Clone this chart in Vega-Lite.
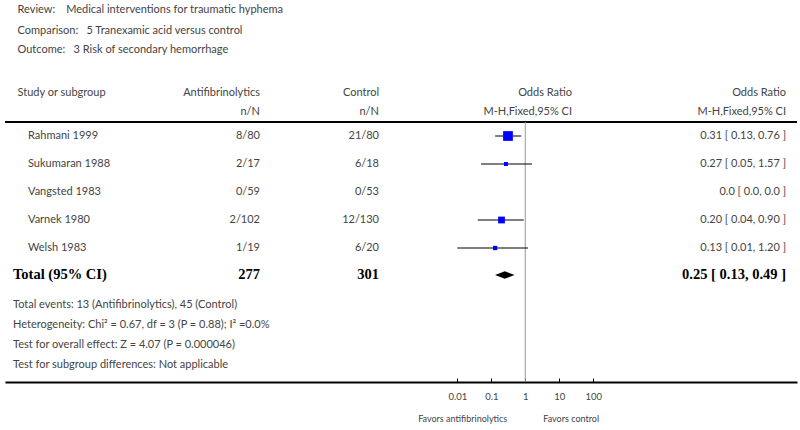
{
  "$schema": "https://vega.github.io/schema/vega-lite/v6.json",
  "width": 800,
  "height": 430,
  "autosize": "none",
  "padding": 0,
  "background": "white",
  "config": {
    "view": {"stroke": null},
    "text": {"font": "Lato", "fontSize": 11, "color": "#444", "baseline": "middle"}
  },
  "datasets": {
    "cells": [
      {"r": 0, "c": 1, "t": "Review:\u2002\u2002Medical interventions for traumatic hyphema", "k": "L"},
      {"r": 1, "c": 1, "t": "Comparison:\u2002\u00a05 Tranexamic acid versus control", "k": "L"},
      {"r": 2, "c": 1, "t": "Outcome:\u2002\u00a03 Risk of secondary hemorrhage", "k": "L"},
      {"r": 3, "c": 1, "t": "Study or subgroup", "k": "L"},
      {"r": 3, "c": 3, "t": "Antifibrinolytics", "k": "R"},
      {"r": 4, "c": 3, "t": "n/N", "k": "R"},
      {"r": 3, "c": 4, "t": "Control", "k": "R"},
      {"r": 4, "c": 4, "t": "n/N", "k": "R"},
      {"r": 3, "c": 5, "t": "Odds Ratio", "k": "R"},
      {"r": 4, "c": 5, "t": "M-H,Fixed,95% CI", "k": "R"},
      {"r": 3, "c": 6, "t": "Odds Ratio", "k": "R"},
      {"r": 4, "c": 6, "t": "M-H,Fixed,95% CI", "k": "R"},
      {"r": 6, "c": 2, "t": "Rahmani 1999", "k": "L"},
      {"r": 6, "c": 3, "t": "8/80", "k": "R"},
      {"r": 6, "c": 4, "t": "21/80", "k": "R"},
      {"r": 6, "c": 6, "t": "0.31 [ 0.13, 0.76 ]", "k": "R"},
      {"r": 7, "c": 2, "t": "Sukumaran 1988", "k": "L"},
      {"r": 7, "c": 3, "t": "2/17", "k": "R"},
      {"r": 7, "c": 4, "t": "6/18", "k": "R"},
      {"r": 7, "c": 6, "t": "0.27 [ 0.05, 1.57 ]", "k": "R"},
      {"r": 8, "c": 2, "t": "Vangsted 1983", "k": "L"},
      {"r": 8, "c": 3, "t": "0/59", "k": "R"},
      {"r": 8, "c": 4, "t": "0/53", "k": "R"},
      {"r": 8, "c": 6, "t": "0.0 [ 0.0, 0.0 ]", "k": "R"},
      {"r": 9, "c": 2, "t": "Varnek 1980", "k": "L"},
      {"r": 9, "c": 3, "t": "2/102", "k": "R"},
      {"r": 9, "c": 4, "t": "12/130", "k": "R"},
      {"r": 9, "c": 6, "t": "0.20 [ 0.04, 0.90 ]", "k": "R"},
      {"r": 10, "c": 2, "t": "Welsh 1983", "k": "L"},
      {"r": 10, "c": 3, "t": "1/19", "k": "R"},
      {"r": 10, "c": 4, "t": "6/20", "k": "R"},
      {"r": 10, "c": 6, "t": "0.13 [ 0.01, 1.20 ]", "k": "R"},
      {"r": 11, "c": 0, "t": "Total (95% CI)", "k": "BL"},
      {"r": 11, "c": 3, "t": "277", "k": "BR"},
      {"r": 11, "c": 4, "t": "301", "k": "BR"},
      {"r": 11, "c": 6, "t": "0.25 [ 0.13, 0.49 ]", "k": "BR"},
      {"r": 12, "c": 0, "t": "Total events: 13 (Antifibrinolytics), 45 (Control)", "k": "L"},
      {"r": 13, "c": 0, "t": "Heterogeneity: Chi\u00b2 = 0.67, df = 3 (P = 0.88); I\u00b2 =0.0%", "k": "L"},
      {"r": 14, "c": 0, "t": "Test for overall effect: Z = 4.07 (P = 0.000046)", "k": "L"},
      {"r": 15, "c": 0, "t": "Test for subgroup differences: Not applicable", "k": "L"}
    ],
    "studies": [
      {"study": "Rahmani 1999", "r": 6, "or": 0.31, "lo": 0.13, "hi": 0.76, "w": 47.3},
      {"study": "Sukumaran 1988", "r": 7, "or": 0.27, "lo": 0.05, "hi": 1.57, "w": 12.9},
      {"study": "Vangsted 1983", "r": 8, "or": null, "lo": null, "hi": null, "w": 0},
      {"study": "Varnek 1980", "r": 9, "or": 0.2, "lo": 0.04, "hi": 0.9, "w": 25.9},
      {"study": "Welsh 1983", "r": 10, "or": 0.13, "lo": 0.01, "hi": 1.2, "w": 13.9}
    ],
    "total": [
      {"r": 11, "or": 0.25, "lo": 0.13, "hi": 0.49}
    ]
  },
  "layer": [
    {
      "data": {"name": "cells"},
      "encoding": {
        "x": {"field": "c", "type": "quantitative", "axis": null,
              "scale": {"domain": [0, 1, 2, 3, 4, 5, 6], "range": [13, 17.5, 28, 260, 379, 572, 786], "nice": false, "zero": false}},
        "y": {"field": "r", "type": "quantitative", "axis": null,
              "scale": {"domain": [0, 1, 2, 3, 4, 5, 6, 7, 8, 9, 10, 11, 12, 13, 14, 15, 16, 17, 18],
                        "range": [10.3, 30.7, 50, 92.7, 112, 122, 136, 164, 192, 220, 248, 275, 305, 325, 345, 365, 382, 400, 419],
                        "nice": false, "zero": false}},
        "text": {"field": "t", "type": "nominal"}
      },
      "layer": [
        {"transform": [{"filter": "datum.k == 'L'"}], "mark": {"type": "text", "align": "left"}},
        {"transform": [{"filter": "datum.k == 'R'"}], "mark": {"type": "text", "align": "right"}},
        {"transform": [{"filter": "datum.k == 'BL'"}], "mark": {"type": "text", "align": "left", "font": "Liberation Serif", "fontWeight": "bold", "fontSize": 14.5, "color": "#000"}},
        {"transform": [{"filter": "datum.k == 'BR'"}], "mark": {"type": "text", "align": "right", "font": "Liberation Serif", "fontWeight": "bold", "fontSize": 14.5, "color": "#000"}}
      ]
    },
    {
      "layer": [
        {
          "data": {"values": [{"line": "header rule", "r": 5}]},
          "mark": {"type": "rule", "color": "#000", "strokeWidth": 2},
          "encoding": {
            "x": {"datum": 5e-16, "type": "quantitative",
                  "scale": {"type": "log", "domain": [5e-16, 9.8e7], "range": [5, 797], "nice": false},
                  "axis": {"values": [0.01, 0.1, 1, 10, 100], "format": "~g", "offset": -48, "title": null, "grid": false,
                           "domainColor": "#000", "domainWidth": 2, "tickColor": "#000", "tickWidth": 1, "tickSize": -4,
                           "labelFont": "Lato", "labelFontSize": 9.5, "labelColor": "#444", "labelBaseline": "middle",
                           "labelPadding": 18, "labelFlush": false, "labelOverlap": false}},
            "x2": {"datum": 9.8e7},
            "y": {"field": "r", "type": "quantitative", "axis": null,
                  "scale": {"domain": [0, 1, 2, 3, 4, 5, 6, 7, 8, 9, 10, 11, 12, 13, 14, 15, 16, 17, 18],
                            "range": [10.3, 30.7, 50, 92.7, 112, 122, 136, 164, 192, 220, 248, 275, 305, 325, 345, 365, 382, 400, 419],
                            "nice": false, "zero": false}}
          }
        },
        {
          "data": {"values": [{"or": 1, "r": 5, "r2": 16}]},
          "mark": {"type": "rule", "color": "#999", "strokeWidth": 1},
          "encoding": {
            "x": {"field": "or", "type": "quantitative", "title": null},
            "y": {"field": "r", "type": "quantitative", "axis": null,
                  "scale": {"domain": [0, 1, 2, 3, 4, 5, 6, 7, 8, 9, 10, 11, 12, 13, 14, 15, 16, 17, 18],
                            "range": [10.3, 30.7, 50, 92.7, 112, 122, 136, 164, 192, 220, 248, 275, 305, 325, 345, 365, 382, 400, 419],
                            "nice": false, "zero": false}},
            "y2": {"field": "r2"}
          }
        },
        {
          "data": {"name": "studies"},
          "transform": [{"filter": "isValid(datum.or) && datum.or > 0"}],
          "mark": {"type": "rule", "color": "#000", "strokeWidth": 1},
          "encoding": {
            "x": {"field": "lo", "type": "quantitative", "title": null},
            "x2": {"field": "hi"},
            "y": {"field": "r", "type": "quantitative", "axis": null,
                  "scale": {"domain": [0, 1, 2, 3, 4, 5, 6, 7, 8, 9, 10, 11, 12, 13, 14, 15, 16, 17, 18],
                            "range": [10.3, 30.7, 50, 92.7, 112, 122, 136, 164, 192, 220, 248, 275, 305, 325, 345, 365, 382, 400, 419],
                            "nice": false, "zero": false}}
          }
        },
        {
          "data": {"name": "studies"},
          "transform": [{"filter": "isValid(datum.or) && datum.or > 0"}],
          "mark": {"type": "point", "shape": "square", "filled": true, "color": "#0000ff", "opacity": 1, "strokeWidth": 0},
          "encoding": {
            "x": {"field": "or", "type": "quantitative", "title": null},
            "y": {"field": "r", "type": "quantitative", "axis": null,
                  "scale": {"domain": [0, 1, 2, 3, 4, 5, 6, 7, 8, 9, 10, 11, 12, 13, 14, 15, 16, 17, 18],
                            "range": [10.3, 30.7, 50, 92.7, 112, 122, 136, 164, 192, 220, 248, 275, 305, 325, 345, 365, 382, 400, 419],
                            "nice": false, "zero": false}},
            "size": {"field": "w", "type": "quantitative", "legend": null,
                     "scale": {"domain": [12.9, 47.3], "range": [16, 95], "zero": false, "nice": false}}
          }
        },
        {
          "data": {"name": "total"},
          "mark": {"type": "point", "shape": "M-1,0L0,-0.38L1,0L0,0.38Z", "filled": true, "color": "#000", "opacity": 1, "size": 380, "strokeWidth": 0},
          "encoding": {
            "x": {"field": "or", "type": "quantitative", "title": null},
            "y": {"field": "r", "type": "quantitative", "axis": null,
                  "scale": {"domain": [0, 1, 2, 3, 4, 5, 6, 7, 8, 9, 10, 11, 12, 13, 14, 15, 16, 17, 18],
                            "range": [10.3, 30.7, 50, 92.7, 112, 122, 136, 164, 192, 220, 248, 275, 305, 325, 345, 365, 382, 400, 419],
                            "nice": false, "zero": false}}
          }
        },
        {
          "data": {"values": [{"or": 1, "r": 18, "t": "Favors antifibrinolytics"}]},
          "mark": {"type": "text", "align": "right", "dx": -18, "fontSize": 9},
          "encoding": {
            "x": {"field": "or", "type": "quantitative", "title": null},
            "y": {"field": "r", "type": "quantitative", "axis": null,
                  "scale": {"domain": [0, 1, 2, 3, 4, 5, 6, 7, 8, 9, 10, 11, 12, 13, 14, 15, 16, 17, 18],
                            "range": [10.3, 30.7, 50, 92.7, 112, 122, 136, 164, 192, 220, 248, 275, 305, 325, 345, 365, 382, 400, 419],
                            "nice": false, "zero": false}},
            "text": {"field": "t", "type": "nominal"}
          }
        },
        {
          "data": {"values": [{"or": 1, "r": 18, "t": "Favors control"}]},
          "mark": {"type": "text", "align": "left", "dx": 18, "fontSize": 9},
          "encoding": {
            "x": {"field": "or", "type": "quantitative", "title": null},
            "y": {"field": "r", "type": "quantitative", "axis": null,
                  "scale": {"domain": [0, 1, 2, 3, 4, 5, 6, 7, 8, 9, 10, 11, 12, 13, 14, 15, 16, 17, 18],
                            "range": [10.3, 30.7, 50, 92.7, 112, 122, 136, 164, 192, 220, 248, 275, 305, 325, 345, 365, 382, 400, 419],
                            "nice": false, "zero": false}},
            "text": {"field": "t", "type": "nominal"}
          }
        }
      ]
    }
  ],
  "resolve": {"scale": {"x": "independent"}, "axis": {"x": "independent"}}
}
